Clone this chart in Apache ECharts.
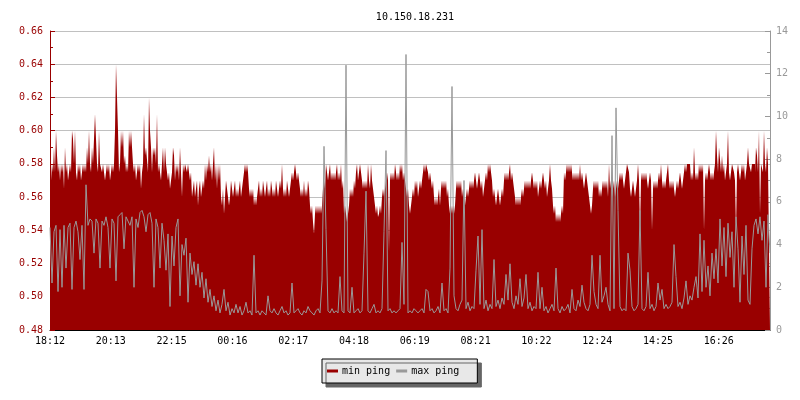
<!DOCTYPE html>
<html>
<head>
<meta charset="utf-8">
<title>10.150.18.231</title>
<script src="https://cdn.jsdelivr.net/npm/echarts@6/dist/echarts.min.js"></script>
<style>
  html, body { margin: 0; padding: 0; background: #fff; }
  #chart { width: 800px; height: 400px; }
</style>
</head>
<body>
<div id="chart"></div>
<script>
// time labels on the x axis, one every ~2h
const timeLabels = ['18:12', '20:13', '22:15', '00:16', '02:17', '04:18', '06:19', '08:21', '10:22', '12:24', '14:25', '16:26'];
const labelStep = 60.8; // samples between two time labels

// min ping (left axis, ms), one sample per step
const minPing = [
  0.56, 0.575, 0.57, 0.58, 0.575, 0.59, 0.575, 0.60, 0.585, 0.575, 0.58, 0.57, 0.58, 0.575, 0.58, 0.565, 0.59, 0.575, 0.58, 0.57,
  0.575, 0.58, 0.575, 0.60, 0.595, 0.58, 0.60, 0.575, 0.57, 0.58, 0.575, 0.58, 0.57, 0.575, 0.58, 0.575, 0.58, 0.575, 0.59, 0.58,
  0.60, 0.58, 0.575, 0.59, 0.58, 0.595, 0.61, 0.595, 0.58, 0.575, 0.60, 0.58, 0.58, 0.575, 0.58, 0.575, 0.57, 0.575, 0.58, 0.575,
  0.58, 0.57, 0.575, 0.58, 0.575, 0.58, 0.60, 0.64, 0.62, 0.60, 0.575, 0.58, 0.60, 0.59, 0.60, 0.58, 0.585, 0.575, 0.58, 0.575,
  0.60, 0.59, 0.60, 0.60, 0.58, 0.575, 0.58, 0.57, 0.575, 0.58, 0.575, 0.58, 0.565, 0.575, 0.58, 0.61, 0.585, 0.59, 0.59, 0.575,
  0.62, 0.60, 0.59, 0.575, 0.59, 0.585, 0.59, 0.58, 0.61, 0.575, 0.58, 0.575, 0.57, 0.58, 0.59, 0.575, 0.59, 0.58, 0.575, 0.57,
  0.575, 0.565, 0.57, 0.575, 0.59, 0.585, 0.57, 0.58, 0.575, 0.58, 0.57, 0.59, 0.575, 0.56, 0.58, 0.575, 0.58, 0.58, 0.575, 0.58,
  0.58, 0.57, 0.575, 0.56, 0.565, 0.57, 0.56, 0.565, 0.57, 0.555, 0.565, 0.57, 0.56, 0.565, 0.57, 0.565, 0.58, 0.57, 0.58, 0.575,
  0.585, 0.575, 0.58, 0.57, 0.58, 0.59, 0.57, 0.58, 0.565, 0.58, 0.57, 0.58, 0.56, 0.555, 0.565, 0.55, 0.56, 0.57, 0.565, 0.56,
  0.555, 0.56, 0.57, 0.565, 0.56, 0.565, 0.57, 0.56, 0.565, 0.56, 0.565, 0.57, 0.56, 0.565, 0.57, 0.575, 0.58, 0.575, 0.58, 0.575,
  0.565, 0.56, 0.565, 0.56, 0.565, 0.555, 0.56, 0.555, 0.56, 0.565, 0.57, 0.56, 0.565, 0.56, 0.57, 0.565, 0.56, 0.565, 0.57, 0.56,
  0.565, 0.56, 0.57, 0.565, 0.56, 0.565, 0.56, 0.57, 0.565, 0.56, 0.565, 0.57, 0.565, 0.58, 0.565, 0.56, 0.565, 0.56, 0.57, 0.565,
  0.56, 0.565, 0.57, 0.575, 0.57, 0.575, 0.58, 0.575, 0.57, 0.575, 0.57, 0.565, 0.56, 0.565, 0.56, 0.57, 0.56, 0.565, 0.56, 0.57,
  0.565, 0.555, 0.55, 0.555, 0.545, 0.538, 0.55, 0.555, 0.55, 0.555, 0.55, 0.555, 0.55, 0.555, 0.565, 0.57, 0.565, 0.58, 0.575, 0.57,
  0.575, 0.58, 0.57, 0.575, 0.57, 0.575, 0.57, 0.575, 0.58, 0.57, 0.575, 0.57, 0.58, 0.565, 0.57, 0.55, 0.555, 0.55, 0.545, 0.55,
  0.555, 0.565, 0.56, 0.565, 0.56, 0.57, 0.565, 0.575, 0.58, 0.57, 0.575, 0.58, 0.575, 0.57, 0.565, 0.57, 0.565, 0.57, 0.565, 0.58,
  0.57, 0.565, 0.58, 0.57, 0.565, 0.56, 0.555, 0.55, 0.555, 0.548, 0.55, 0.555, 0.55, 0.56, 0.565, 0.56, 0.565, 0.57, 0.575, 0.57,
  0.527, 0.57, 0.575, 0.57, 0.575, 0.57, 0.58, 0.575, 0.57, 0.575, 0.57, 0.58, 0.575, 0.58, 0.57, 0.575, 0.57, 0.565, 0.56, 0.565,
  0.555, 0.55, 0.555, 0.56, 0.565, 0.56, 0.57, 0.565, 0.57, 0.56, 0.565, 0.57, 0.565, 0.57, 0.575, 0.58, 0.575, 0.58, 0.58, 0.575,
  0.57, 0.575, 0.57, 0.565, 0.57, 0.56, 0.555, 0.56, 0.555, 0.56, 0.565, 0.555, 0.565, 0.57, 0.565, 0.57, 0.565, 0.57, 0.56, 0.565,
  0.555, 0.55, 0.555, 0.55, 0.555, 0.55, 0.555, 0.565, 0.57, 0.565, 0.57, 0.565, 0.57, 0.56, 0.565, 0.56, 0.555, 0.56, 0.565, 0.56,
  0.565, 0.57, 0.565, 0.57, 0.565, 0.57, 0.575, 0.57, 0.565, 0.57, 0.575, 0.57, 0.565, 0.57, 0.56, 0.565, 0.57, 0.575, 0.57, 0.58,
  0.575, 0.58, 0.58, 0.57, 0.56, 0.565, 0.56, 0.555, 0.56, 0.565, 0.56, 0.555, 0.56, 0.565, 0.56, 0.57, 0.575, 0.57, 0.575, 0.57,
  0.575, 0.58, 0.57, 0.575, 0.57, 0.565, 0.56, 0.555, 0.56, 0.555, 0.56, 0.555, 0.56, 0.565, 0.56, 0.565, 0.57, 0.565, 0.57, 0.565,
  0.57, 0.565, 0.57, 0.575, 0.57, 0.565, 0.57, 0.565, 0.57, 0.56, 0.565, 0.57, 0.565, 0.57, 0.575, 0.57, 0.565, 0.57, 0.56, 0.565,
  0.57, 0.58, 0.57, 0.565, 0.555, 0.55, 0.555, 0.545, 0.55, 0.545, 0.55, 0.545, 0.55, 0.555, 0.55, 0.575, 0.57, 0.575, 0.58, 0.575,
  0.58, 0.575, 0.58, 0.575, 0.57, 0.575, 0.57, 0.575, 0.57, 0.575, 0.57, 0.58, 0.57, 0.575, 0.57, 0.565, 0.57, 0.575, 0.57, 0.565,
  0.56, 0.555, 0.55, 0.555, 0.565, 0.57, 0.565, 0.57, 0.565, 0.57, 0.56, 0.565, 0.56, 0.565, 0.57, 0.565, 0.57, 0.565, 0.57, 0.56,
  0.58, 0.565, 0.57, 0.56, 0.565, 0.57, 0.56, 0.565, 0.57, 0.565, 0.57, 0.575, 0.57, 0.575, 0.57, 0.565, 0.57, 0.575, 0.58, 0.58,
  0.575, 0.565, 0.56, 0.565, 0.57, 0.565, 0.56, 0.565, 0.57, 0.58, 0.57, 0.54, 0.57, 0.575, 0.57, 0.575, 0.57, 0.575, 0.57, 0.565,
  0.57, 0.575, 0.57, 0.54, 0.565, 0.57, 0.565, 0.57, 0.565, 0.57, 0.575, 0.57, 0.58, 0.57, 0.565, 0.57, 0.565, 0.57, 0.575, 0.58,
  0.57, 0.565, 0.57, 0.565, 0.57, 0.565, 0.56, 0.565, 0.57, 0.565, 0.57, 0.575, 0.57, 0.565, 0.57, 0.575, 0.58, 0.575, 0.58, 0.58,
  0.58, 0.58, 0.57, 0.575, 0.57, 0.59, 0.575, 0.57, 0.575, 0.57, 0.58, 0.575, 0.58, 0.575, 0.58, 0.54, 0.57, 0.575, 0.57, 0.575,
  0.58, 0.575, 0.57, 0.575, 0.57, 0.575, 0.58, 0.60, 0.585, 0.575, 0.59, 0.59, 0.575, 0.585, 0.575, 0.58, 0.57, 0.575, 0.58, 0.60,
  0.575, 0.57, 0.575, 0.58, 0.58, 0.575, 0.57, 0.54, 0.575, 0.58, 0.575, 0.57, 0.575, 0.58, 0.575, 0.58, 0.57, 0.575, 0.58, 0.59,
  0.58, 0.58, 0.575, 0.58, 0.58, 0.58, 0.575, 0.59, 0.585, 0.575, 0.60, 0.55, 0.58, 0.58, 0.575, 0.60, 0.58, 0.575, 0.59, 0.58,
  0.58
];

// max ping (right axis, ms), one sample every 2 steps
const maxPing = [
  4.8, 2.2, 4.6, 4.9, 1.8, 4.7, 2.0, 4.9, 2.9, 4.8,
  5.0, 1.9, 4.8, 5.1, 4.6, 3.3, 4.9, 1.9, 6.8, 4.9,
  5.2, 5.1, 3.6, 5.2, 5.0, 2.9, 5.1, 4.9, 5.3, 4.8,
  2.9, 5.2, 5.0, 2.3, 5.3, 5.4, 5.5, 3.8, 5.3, 5.1,
  4.9, 5.3, 2.0, 5.2, 4.8, 5.5, 5.6, 5.3, 4.6, 5.4,
  5.5, 5.0, 2.0, 5.2, 4.8, 2.9, 5.0, 4.2, 2.8, 4.5,
  1.1, 4.4, 3.0, 4.8, 5.2, 1.6, 4.0, 3.5, 4.3, 1.3,
  3.6, 2.6, 3.2, 2.1, 3.1, 2.0, 2.7, 1.5, 2.4, 1.3,
  1.9, 1.1, 1.6, 0.9, 1.4, 0.8, 1.2, 1.9, 0.9, 1.3,
  0.7, 1.0, 0.8, 1.2, 0.8, 1.1, 0.7, 0.9, 1.3, 0.8,
  0.9, 0.7, 3.5, 0.8, 0.9, 0.7, 0.9, 0.8, 0.7, 1.6,
  0.9, 0.8, 1.0, 0.8, 0.7, 0.9, 1.1, 0.8, 0.9, 0.7,
  0.8, 2.2, 0.8, 0.9, 1.0, 0.8, 0.7, 0.9, 0.8, 1.1,
  0.9, 0.8, 0.7, 0.9, 1.0, 0.8, 2.3, 8.6, 4.7, 0.9,
  0.8, 1.0, 0.8, 0.9, 0.8, 2.5, 0.9, 0.8, 12.4, 0.9,
  0.8, 2.0, 0.8, 0.9, 1.0, 0.8, 0.9, 3.6, 6.5, 0.9,
  0.8, 1.0, 1.2, 0.8, 0.9, 0.8, 1.0, 4.6, 8.4, 0.9,
  1.0, 0.8, 0.9, 0.8, 0.9, 1.0, 4.1, 1.2, 12.9, 0.8,
  0.9, 0.8, 1.0, 0.9, 0.8, 0.9, 1.0, 0.8, 1.9, 1.8,
  0.9, 1.0, 0.8, 0.9, 1.1, 0.8, 2.2, 0.9, 1.0, 0.8,
  2.9, 11.4, 1.6, 1.0, 0.9, 1.2, 1.4, 7.0, 1.0, 1.3,
  0.9, 1.1, 1.0, 2.8, 4.4, 1.2, 4.7, 1.0, 1.4, 0.9,
  1.2, 1.0, 3.3, 1.1, 1.4, 1.0, 1.5, 1.2, 2.6, 1.4,
  3.1, 1.3, 1.0, 1.6, 1.2, 2.4, 1.1, 1.5, 2.6, 1.0,
  1.3, 0.9, 1.1, 1.0, 2.7, 1.0, 2.0, 0.9, 1.1, 0.8,
  1.0, 1.2, 0.9, 2.9, 1.0, 0.8, 1.1, 0.9, 1.0, 1.2,
  0.8, 1.9, 1.0, 0.9, 1.4, 1.1, 2.1, 1.3, 1.0, 0.9,
  1.2, 3.5, 1.8, 1.2, 1.0, 3.5, 1.3, 1.6, 2.0, 1.2,
  0.9, 9.1, 1.0, 10.4, 5.6, 1.1, 0.9, 1.0, 0.9, 3.6,
  2.8, 1.1, 0.9, 1.0, 1.2, 5.6, 1.0, 0.9, 1.1, 2.7,
  1.0, 1.2, 0.9, 1.1, 2.2, 1.4, 1.9, 1.0, 1.2, 1.0,
  1.1, 1.3, 4.0, 2.5, 1.1, 1.3, 1.0, 1.5, 2.3, 1.2,
  1.6, 1.4, 2.0, 2.5, 1.5, 4.5, 1.8, 4.2, 2.0, 3.0,
  1.6, 3.6, 2.4, 3.8, 2.2, 5.2, 3.0, 4.8, 2.5, 5.0,
  3.4, 4.6, 2.0, 5.3, 3.8, 1.3, 4.4, 2.6, 4.9, 1.4,
  1.2, 3.8, 4.9, 5.2, 4.5, 5.3, 4.2, 5.1, 2.0, 5.4, 3.6
];

const font = 'DejaVu Sans Mono';
const chart = echarts.init(document.getElementById('chart'), null, { renderer: 'canvas' });

let option = {
  animation: false,
  backgroundColor: '#fff',
  textStyle: { fontFamily: font, fontSize: 10 },
  title: {
    text: '10.150.18.231',
    left: 410,
    top: 7,
    textAlign: 'center',
    textStyle: { fontFamily: font, fontSize: 10, fontWeight: 'normal', color: '#000' }
  },
  grid: { left: 50, right: 30, top: 31, bottom: 70 },
  legend: {
    data: ['min ping', 'max ping'],
    left: 322,
    top: 359,
    icon: 'rect',
    itemWidth: 11,
    itemHeight: 3,
    itemGap: 6,
    padding: [6, 18, 6, 5],
    backgroundColor: '#e8e8e8',
    borderColor: '#000',
    borderWidth: 1,
    shadowColor: '#666',
    shadowBlur: 0,
    shadowOffsetX: 4,
    shadowOffsetY: 4,
    textStyle: { fontFamily: font, fontSize: 10, color: '#000', lineHeight: 12, padding: [0, 0, 0, -1] }
  },
  xAxis: {
    type: 'value',
    min: 0,
    max: minPing.length - 1,
    interval: labelStep,
    axisLine: { lineStyle: { color: '#000', width: 1 } },
    axisTick: { inside: true, length: 5, lineStyle: { color: '#000' } },
    splitLine: { show: false },
    axisLabel: {
      color: '#000',
      fontFamily: font,
      fontSize: 10,
      margin: 6,
      showMaxLabel: false,
      formatter: (v) => {
        let k = Math.round(v / labelStep);
        return Math.abs(v - k * labelStep) < 0.01 ? (timeLabels[k] || '') : '';
      }
    }
  },
  yAxis: [
    {
      type: 'value',
      min: 0.48,
      max: 0.66,
      interval: 0.02,
      position: 'left',
      axisLine: { show: true, lineStyle: { color: '#990000' } },
      axisTick: { show: true, inside: true, length: 5, lineStyle: { color: '#990000' } },
      minorTick: { show: true, splitNumber: 2, length: 3, lineStyle: { color: '#990000' } },
      splitLine: { show: true, lineStyle: { color: '#c0c0c0', width: 1 } },
      axisLabel: {
        color: '#990000',
        fontFamily: font,
        fontSize: 10,
        margin: 7,
        formatter: (v) => v.toFixed(2)
      }
    },
    {
      type: 'value',
      min: 0,
      max: 14,
      interval: 2,
      position: 'right',
      axisLine: { show: true, lineStyle: { color: '#999' } },
      axisTick: { show: true, inside: true, length: 5, lineStyle: { color: '#999' } },
      minorTick: { show: true, splitNumber: 2, length: 3, lineStyle: { color: '#999' } },
      splitLine: { show: false },
      axisLabel: { color: '#999', fontFamily: font, fontSize: 10, margin: 6 }
    }
  ],
  series: [
    {
      name: 'min ping',
      type: 'line',
      yAxisIndex: 0,
      step: 'start',
      showSymbol: false,
      color: '#990000',
      lineStyle: { width: 0 },
      areaStyle: { color: '#990000', opacity: 1, origin: 'start' },
      data: minPing.map((v, i) => [i, v]),
      z: 2
    },
    {
      name: 'max ping',
      type: 'line',
      yAxisIndex: 1,
      showSymbol: false,
      color: '#999999',
      lineStyle: { width: 1, color: '#999999' },
      data: maxPing.map((v, i) => [i * 2, v]),
      z: 3
    }
  ]
};

chart.setOption(option);
</script>
</body>
</html>
